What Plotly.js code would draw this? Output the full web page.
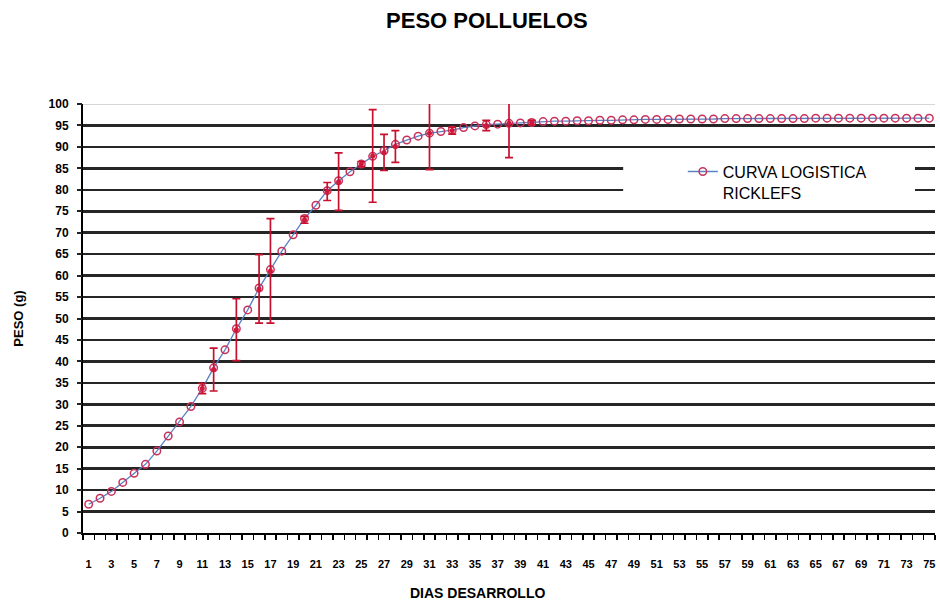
<!DOCTYPE html>
<html><head><meta charset="utf-8">
<script src="https://cdn.plot.ly/plotly-3.0.1.min.js"></script>
<style>html,body{margin:0;padding:0;background:#fff}#chart{width:940px;height:609px}</style>
</head><body><div id="chart"></div>
<script>
// Days of development (categories)
const dias = [1,2,3,4,5,6,7,8,9,10,11,12,13,14,15,16,17,18,19,20,21,22,23,24,25,26,27,28,29,30,
  31,32,33,34,35,36,37,38,39,40,41,42,43,44,45,46,47,48,49,50,51,52,53,54,55,56,57,58,59,60,
  61,62,63,64,65,66,67,68,69,70,71,72,73,74,75];
// Logistic curve (Ricklefs) weight values, g
const curvaLogistica = [6.7,8.1,9.7,11.8,13.9,16.0,19.1,22.6,25.9,29.5,33.7,38.5,42.7,47.6,52.0,57.1,61.4,65.7,69.5,73.3,
  76.4,79.8,82.1,84.2,86.0,87.8,89.1,90.6,91.6,92.5,93.2,93.6,93.9,94.5,94.9,95.2,95.3,95.5,95.6,95.7,
  95.9,96.0,96.0,96.1,96.1,96.2,96.2,96.3,96.3,96.4,96.4,96.4,96.5,96.5,96.5,96.5,96.6,96.6,96.6,96.6,
  96.6,96.6,96.6,96.6,96.7,96.7,96.7,96.7,96.7,96.7,96.7,96.7,96.7,96.7,96.7];
// Observed means with error bars
const obsDias = [11,12,14,16,17,20,22,23,25,26,27,28,31,33,36,38,40];
const obsPeso = [33.7,38.1,47.4,56.9,61.1,73.0,79.6,81.9,86.0,87.9,88.7,90.1,93.2,93.8,95.0,95.5,95.7];
const obsError = [1.2,5.0,7.2,8.0,12.2,0.8,2.1,6.7,0.6,10.8,4.2,3.7,8.5,0.8,1.2,8.0,0.5];
// Axis ticks
const gridVals = [5,10,15,20,25,30,35,40,45,50,55,60,65,70,75,80,85,90,95];

const FONT = 'Liberation Sans, Arial, sans-serif';

const traces = [
  {
    x: dias, y: curvaLogistica, type: 'scatter', mode: 'lines+markers',
    name: 'CURVA LOGISTICA<br>RICKLEFS',
    line: {color: '#5a82c4', width: 1.3},
    marker: {symbol: 'circle-open', size: 7.5, color: '#c8325a', line: {width: 1.5}},
    cliponaxis: false
  },
  {
    x: obsDias, y: obsPeso, type: 'scatter', mode: 'markers', showlegend: false,
    marker: {symbol: 'circle', size: 5, color: '#d0183a'},
    error_y: {type: 'data', array: obsError, visible: true, color: '#c8102e', thickness: 1.7, width: 4}
  },
  {x: [], y: [], yaxis: 'y2', type: 'scatter', showlegend: false, hoverinfo: 'skip'}
];

const layout = {
  width: 940, height: 609,
  margin: {l: 83, r: 5, t: 104, b: 76, pad: 0},
  paper_bgcolor: '#fff', plot_bgcolor: '#fff',
  font: {family: FONT, color: '#000'},
  title: {text: 'PESO POLLUELOS', font: {family: FONT, size: 22, weight: 'bold', color: '#000'},
          x: 0.518, xanchor: 'center', y: 0.966, yanchor: 'middle'},
  xaxis: {
    range: [0.5, 75.5], tickmode: 'linear', tick0: 1, dtick: 2, ticks: '',
    showgrid: false, zeroline: false, showline: true, linecolor: '#000', linewidth: 2,
    tickfont: {family: FONT, size: 11, weight: 'bold', color: '#000'},
    ticklabelstandoff: 20,
    minor: {ticks: 'outside', tick0: 0.5, dtick: 1, ticklen: 5, tickwidth: 1.5, tickcolor: '#000', showgrid: false}
  },
  yaxis: {
    range: [0, 100], tickmode: 'array', tickvals: gridVals, showticklabels: false, ticks: '',
    showgrid: true, gridcolor: '#262626', gridwidth: 2.6, zeroline: false,
    showline: true, linecolor: '#000', linewidth: 2
  },
  yaxis2: {
    overlaying: 'y', side: 'left', range: [0, 100], tickmode: 'linear', tick0: 0, dtick: 5,
    ticks: 'outside', ticklen: 5, tickwidth: 2, tickcolor: '#222',
    showgrid: false, zeroline: false, showline: false,
    tickfont: {family: FONT, size: 12, weight: 'bold', color: '#000'},
    ticklabelstandoff: 6,
    title: {text: 'PESO (g)', font: {family: FONT, size: 13, weight: 'bold', color: '#000'}, standoff: 22}
  },
  annotations: [
    {text: 'DIAS DESARROLLO', xref: 'paper', yref: 'paper', x: (477 - 83) / 852, y: -60 / 429,
     xanchor: 'center', yanchor: 'middle', showarrow: false,
     font: {family: FONT, size: 14, weight: 'bold', color: '#000'}}
  ],
  legend: {
    x: 0.704, xanchor: 'left', y: 0.882, yanchor: 'top', bgcolor: 'rgba(0,0,0,0)', borderwidth: 0,
    font: {family: FONT, size: 16, color: '#000'}, valign: 'top'
  },
  shapes: [
    {type: 'rect', xref: 'paper', yref: 'y', x0: 0.634, x1: 0.9765, y0: 76.6, y1: 88.9,
     fillcolor: '#fff', line: {width: 0}, layer: 'above'},
    {type: 'line', xref: 'paper', yref: 'y', x0: 0, x1: 1, y0: 100, y1: 100,
     line: {color: '#c8c8c8', width: 1.5}, layer: 'below'}
  ],
  showlegend: true
};

Plotly.newPlot('chart', traces, layout, {displayModeBar: false, staticPlot: true});
</script>
</body></html>
